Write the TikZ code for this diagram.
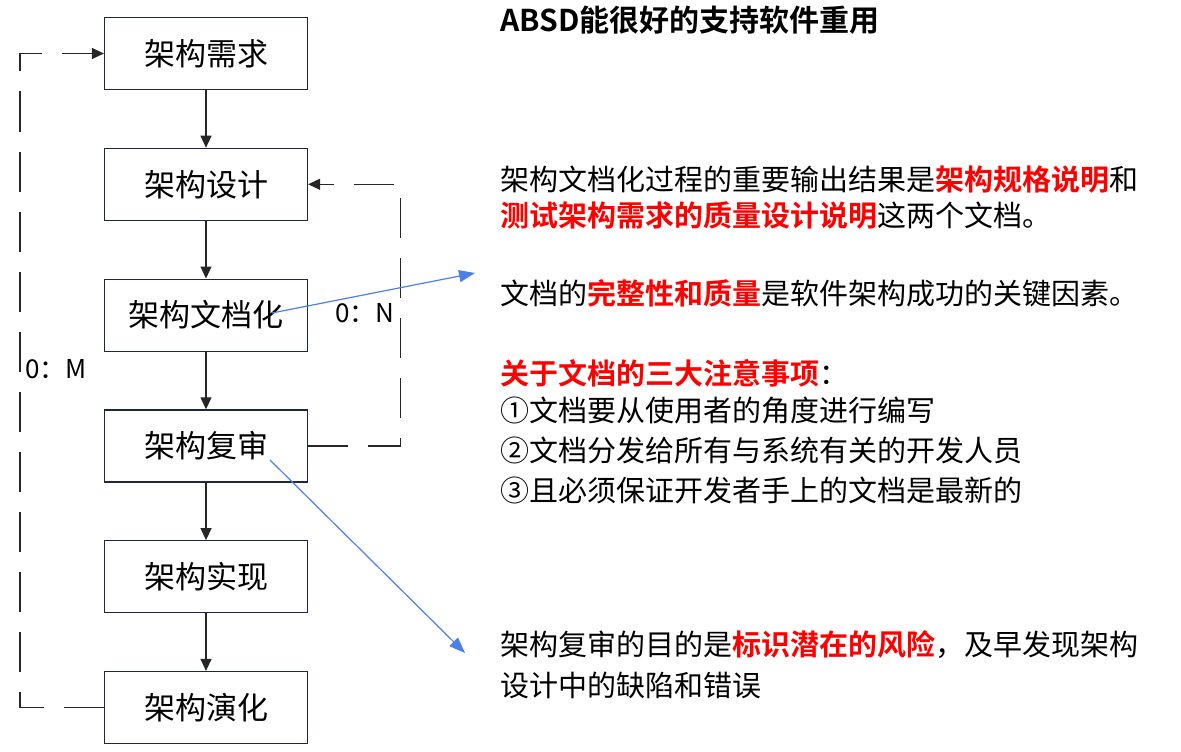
\documentclass[tikz,border=0pt]{standalone}
\usepackage{fontspec}
\setmainfont{Noto Sans CJK SC}[BoldFont={Noto Sans CJK SC Bold}]
\usepackage{tikz}
\usetikzlibrary{arrows.meta}
\usetikzlibrary{positioning}

\definecolor{boxline}{RGB}{31,38,64}
\definecolor{linkblue}{RGB}{74,128,232}
\definecolor{hired}{RGB}{255,0,0}
\newcommand{\hl}[1]{\textcolor{hired}{\bfseries #1}}

\tikzset{
  stage/.style={draw=boxline, line width=1.2pt, minimum width=203pt, minimum height=72pt,
    inner sep=0pt, font=\fontsize{31}{36}\selectfont},
  flow/.style={line width=1.2pt, draw=black!85, -{Triangle[length=12pt,width=11pt]}},
  loopline/.style={line width=1.2pt, draw=black!85, dash pattern=on 40pt off 20pt,
    -{Triangle[length=12pt,width=11pt]}},
  hint/.style={line width=1.2pt, draw=linkblue, -{Triangle[length=16pt,width=12pt]}},
  body/.style={anchor=west, inner sep=0pt, font=\fontsize{29}{34}\selectfont},
  tag/.style={inner sep=0pt, font=\fontsize{26}{30}\selectfont}
}

\begin{document}
\begin{tikzpicture}[x=1pt, y=-1pt, node distance=57.6pt]
  \useasboundingbox (0,0) rectangle (1181,752);

  % process chain
  \node[stage] (req) at (206,53.5) {架构需求};
  \node[stage, below=of req] (des) {架构设计};
  \node[stage, below=of des] (doc) {架构文档化};
  \node[stage, below=of doc] (rev) {架构复审};
  \node[stage, below=of rev] (impl) {架构实现};
  \node[stage, below=of impl] (evo) {架构演化};

  \draw[flow] (req) -- (des);
  \draw[flow] (des) -- (doc);
  \draw[flow] (doc) -- (rev);
  \draw[flow] (rev) -- (impl);
  \draw[flow] (impl) -- (evo);

  % iteration loops
  \draw[loopline] (evo.west) -- ++(-84,0) |- (req.west);
  \draw[loopline] (rev.east) -- ++(92,0) |- (des.east);
  \node[tag] (m) at (56,369) {0：M};
  \node[tag] (n) at (365,313) {0：N};

  % notes
  \node[anchor=west, inner sep=0pt, font=\fontsize{30}{34}\selectfont\bfseries] (title) at (500,20) {ABSD能很好的支持软件重用};
  \node[body] (l1) at (500,180) {架构文档化过程的重要输出结果是\hl{架构规格说明}和};
  \node[body] (l2) at (500,215) {\hl{测试架构需求的质量设计说明}这两个文档。};
  \node[body] (l3) at (500,293) {文档的\hl{完整性和质量}是软件架构成功的关键因素。};
  \node[body] (l4) at (500,373) {\hl{关于文档的三大注意事项}：};
  \node[body] (l5) at (500,410) {①文档要从使用者的角度进行编写};
  \node[body] (l6) at (500,450) {②文档分发给所有与系统有关的开发人员};
  \node[body] (l7) at (500,490) {③且必须保证开发者手上的文档是最新的};
  \node[body] (l8) at (500,645) {架构复审的目的是\hl{标识潜在的风险}，及早发现架构};
  \node[body] (l9) at (500,685) {设计中的缺陷和错误};

  \coordinate (docFrom) at (272,313);
  \coordinate (docTip) at (475,273);
  \coordinate (revFrom) at (270,460);
  \coordinate (revTip) at (465,653);
  \draw[hint] (docFrom) -- (docTip);
  \draw[hint] (revFrom) -- (revTip);
\end{tikzpicture}
\end{document}
